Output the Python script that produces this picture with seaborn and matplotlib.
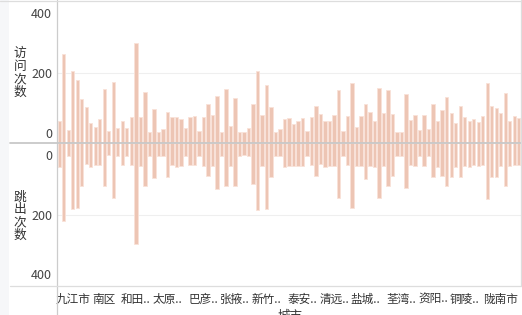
import numpy as np
import pandas as pd
import matplotlib
matplotlib.use("Agg")
import matplotlib.pyplot as plt
import seaborn as sns
from matplotlib.lines import Line2D
from matplotlib.patches import Rectangle

cities = ["三亚市", "上饶市", "东莞市", "九江市", "乌海市", "乐山市", "佛山市", "保定市", "兰州市", "北京市",
          "南区", "南京市", "南宁市", "南昌市", "南通市", "厦门市", "合肥市", "和田地区", "哈尔滨市", "唐山市",
          "嘉兴市", "大连市", "大理州", "天津市", "太原市", "威海市", "宁波市", "安庆市", "宜宾市", "宜昌市",
          "宝鸡市", "岳阳市", "巴彦淖尔市", "常州市", "广州市", "廊坊市", "延安市", "开封市", "徐州市", "张掖市",
          "怀化市", "惠州市", "成都市", "扬州市", "抚顺市", "拉萨市", "新竹市", "无锡市", "昆明市", "晋中市",
          "杭州市", "林芝市", "桂林市", "武汉市", "泰安市", "泰州市", "洛阳市", "济南市", "海口市", "深圳市",
          "温州市", "清远市", "湖州市", "漳州市", "潍坊市", "烟台市", "珠海市", "百色市", "盐城市", "石家庄市",
          "福州市", "秦皇岛市", "绍兴市", "绵阳市", "肇庆市", "舟山市", "荃湾区", "荆州市", "莆田市", "菏泽市",
          "萍乡市", "衡阳市", "西安市", "资阳市", "赣州市", "遵义市", "邯郸市", "郑州市", "重庆市", "金华市",
          "铜陵市", "银川市", "锦州市", "长春市", "长沙市", "阜阳市", "阳江市", "随州市", "陇南市", "青岛市",
          "韶关市", "鹰潭市", "黄山市"]

visits = [40, 264, 8, 206, 176, 112, 85, 31, 17, 47,
          145, 6, 170, 15, 38, 15, 51, 300, 51, 136,
          3, 78, 3, 11, 69, 51, 53, 44, 15, 51,
          56, 6, 51, 96, 60, 123, 2, 146, 23, 115,
          2, 1, 14, 96, 205, 60, 160, 86, 1, 12,
          45, 49, 30, 39, 48, 6, 52, 88, 62, 40,
          40, 60, 142, 4, 54, 167, 17, 56, 96, 69,
          40, 148, 66, 142, 63, 2, 1, 129, 43, 58,
          8, 58, 12, 96, 40, 75, 120, 66, 33, 88,
          52, 39, 45, 35, 56, 167, 88, 82, 66, 133,
          38, 54, 48]

bounces = [41, 221, 2, 180, 177, 103, 30, 39, 35, 35,
           105, 0, 143, 2, 33, 2, 35, 299, 37, 105,
           2, 76, 2, 2, 75, 35, 39, 37, 2, 33,
           33, 2, 36, 70, 36, 113, 2, 106, 36, 106,
           2, 0, 2, 99, 184, 38, 180, 75, 2, 3,
           39, 36, 37, 36, 37, 2, 33, 72, 30, 39,
           36, 36, 143, 2, 35, 177, 37, 37, 80, 36,
           39, 143, 36, 106, 72, 2, 2, 110, 35, 36,
           2, 36, 2, 73, 39, 70, 103, 73, 39, 73,
           36, 39, 34, 36, 33, 147, 73, 73, 36, 103,
           36, 35, 35]

tick_positions = [3, 10, 17, 24, 32, 39, 46, 54, 61, 68, 76, 83, 90, 98]
tick_labels = ["九江市", "南区", "和田..", "太原..", "巴彦..", "张掖..", "新竹..",
               "泰安..", "清远..", "盐城..", "荃湾..", "资阳..", "铜陵..", "陇南市"]
y_ticks = [0, 200, 400]

sns.set_theme(style="white")
plt.rcParams['font.family'] = ['Noto Sans CJK SC', 'DejaVu Sans']

W, H = 522, 315
fig = plt.figure(figsize=(W / 100, H / 100), dpi=100)
fig.patch.set_facecolor("white")


def fx(px):
    return px / W


def fy(py):
    return 1 - py / H


# left light strip
fig.add_artist(Rectangle((0, 0), fx(9), 1, transform=fig.transFigure,
                         facecolor="#f6f7f9", edgecolor="none", zorder=0))

ax1 = fig.add_axes([fx(57), fy(143), fx(521) - fx(57), fy(1.5) - fy(143)])
ax2 = fig.add_axes([fx(57), fy(286), fx(521) - fx(57), fy(143) - fy(286)])

df = pd.DataFrame({"city": cities, "visits": visits, "bounces": bounces})
bar_color = "#edc5b4"
edge_color = "#f9e2d8"

sns.barplot(data=df, x="city", y="visits", ax=ax1, order=cities, color=bar_color,
            saturation=1, width=0.74, edgecolor=edge_color, linewidth=0.6, zorder=2)
sns.barplot(data=df, x="city", y="bounces", ax=ax2, order=cities, color=bar_color,
            saturation=1, width=0.74, edgecolor=edge_color, linewidth=0.6, zorder=2)

lo1, hi1 = -35, 439
lo2, hi2 = -40, 440
ax1.set_ylim(lo1, hi1)
ax2.set_ylim(hi2, lo2)

# bars start from the panel edge
for p in ax1.patches:
    h = p.get_height()
    p.set_y(lo1)
    p.set_height(h - lo1)
for p in ax2.patches:
    h = p.get_height()
    p.set_y(lo2)
    p.set_height(h - lo2)

for ax in (ax1, ax2):
    ax.set_facecolor("none")
    ax.set_xlim(-0.5, len(cities) - 0.5)
    ax.set_yticks(y_ticks)
    ax.set_yticklabels([str(v) for v in y_ticks])
    ax.tick_params(axis="y", length=0, pad=3.5, labelsize=9, labelcolor="#444444")
    ax.set_xlabel("")
    ax.set_ylabel("")
    for s in ax.spines.values():
        s.set_visible(False)
    ax.axhline(200, color="#efefef", lw=0.8, zorder=0)

ax1.set_xticks([])
ax2.set_xticks(tick_positions)
ax2.set_xticklabels(tick_labels)
ax2.tick_params(axis="x", length=0, pad=5, labelsize=8.4, labelcolor="#333333")

# frame lines
lc = "#cccccc"
fig.add_artist(Line2D([fx(57), fx(57)], [0, 1], transform=fig.transFigure, color=lc, lw=0.9))
fig.add_artist(Line2D([fx(10), 1], [fy(143), fy(143)], transform=fig.transFigure, color="#c8c8c8", lw=1.3))
fig.add_artist(Line2D([fx(10), 1], [fy(286), fy(286)], transform=fig.transFigure, color="#dddddd", lw=0.9))
fig.add_artist(Line2D([0, 1], [fy(1), fy(1)], transform=fig.transFigure, color="#dddddd", lw=0.9))
fig.add_artist(Line2D([fx(521), fx(521)], [fy(286), 1], transform=fig.transFigure, color="#dddddd", lw=0.9))

fig.text(fx(20), fy(73), "访\n问\n次\n数", ha="center", va="center", fontsize=9.2,
         color="#333333", linespacing=0.98)
fig.text(fx(20), fy(216), "跳\n出\n次\n数", ha="center", va="center", fontsize=9.2,
         color="#333333", linespacing=0.98)
fig.text(fx(290), fy(310), "城市", ha="center", va="top", fontsize=9, color="#333333")

fig.savefig("out.png", dpi=100)
